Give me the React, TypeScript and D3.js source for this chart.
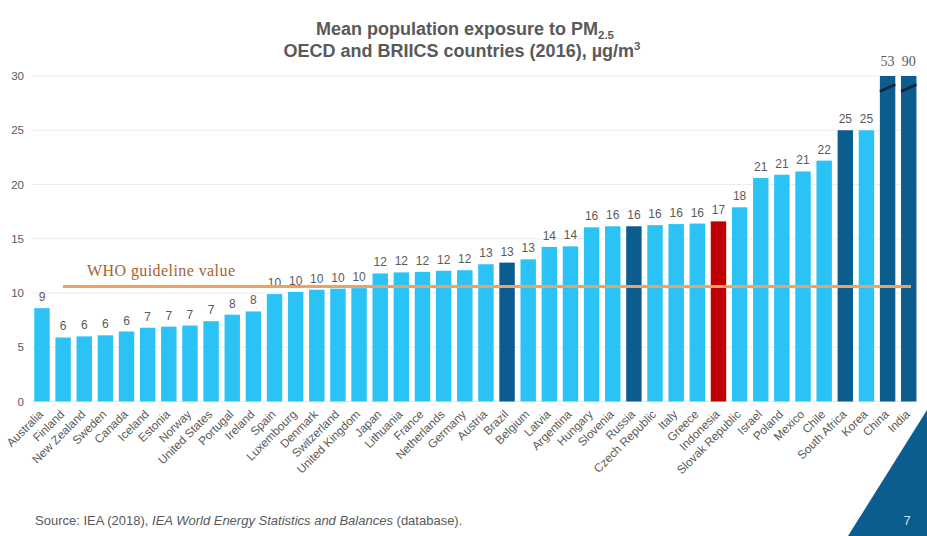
import React from "react";
import * as d3 from "d3";

const countries = [
  "Australia", "Finland", "New Zealand", "Sweden", "Canada", "Iceland", "Estonia", "Norway",
  "United States", "Portugal", "Ireland", "Spain", "Luxembourg", "Denmark", "Switzerland",
  "United Kingdom", "Japan", "Lithuania", "France", "Netherlands", "Germany", "Austria", "Brazil",
  "Belgium", "Latvia", "Argentina", "Hungary", "Slovenia", "Russia", "Czech Republic", "Italy",
  "Greece", "Indonesia", "Slovak Republic", "Israel", "Poland", "Mexico", "Chile", "South Africa",
  "Korea", "China", "India",
];

const values = [
  8.6, 5.9, 6.0, 6.1, 6.45, 6.8, 6.9, 7.0,
  7.4, 8.0, 8.3, 9.9, 10.1, 10.3,
  10.4, 10.45, 11.8, 11.9, 11.95, 12.05, 12.1, 12.65, 12.8,
  13.1, 14.25, 14.3, 16.05, 16.15, 16.15, 16.25, 16.35,
  16.4, 16.6, 17.9, 20.6, 20.9, 21.2, 22.2, 25.0,
  25.0, 53, 90,
];

// group: 0 = OECD, 1 = BRIICS partner, 2 = Indonesia
const groups = [
  0, 0, 0, 0, 0, 0, 0, 0, 0, 0, 0, 0, 0, 0, 0, 0, 0, 0, 0, 0, 0, 0, 1,
  0, 0, 0, 0, 0, 1, 0, 0, 0, 2, 0, 0, 0, 0, 0, 1, 0, 1, 1,
];

const yTicks = [0, 5, 10, 15, 20, 25, 30];
const yMax = 30;
const whoLineLevel = 10.6;

const W = 927;
const H = 536;

const groupColors = ["#2BC3F6", "#0B5D90", "#C00000"];

export default function App() {
  const x = d3
    .scaleBand<string>()
    .domain(countries)
    .range([31.4, 919.3])
    .paddingInner(0.27)
    .paddingOuter(0.135);
  const y = d3.scaleLinear().domain([0, yMax]).range([401.5, 76]);
  const bw = x.bandwidth();
  const sans = "'Liberation Sans', Arial, sans-serif";
  const serif = "'Liberation Serif', 'DejaVu Serif', Georgia, serif";
  const grey = "#5a5a5a";

  return (
    <div style={{ position: "fixed", left: 0, top: 0 }}>
      <svg width={W} height={H} style={{ display: "block", background: "#fff" }}>
        {/* title */}
        <text x={465} y={35} textAnchor="middle" fontFamily={sans} fontWeight="bold" fontSize={18} fill="#595959">
          Mean population exposure to PM
          <tspan fontSize={11.5} dy={4}>2.5</tspan>
        </text>
        <text x={462} y={57} textAnchor="middle" fontFamily={sans} fontWeight="bold" fontSize={18} fill="#595959">
          OECD and BRIICS countries (2016), µg/m
          <tspan fontSize={11.5} dy={-7}>3</tspan>
        </text>

        {/* grid + y ticks */}
        {yTicks.map((t) => (
          <g key={t}>
            <line x1={32} x2={918} y1={y(t)} y2={y(t)} stroke="#ececec" strokeWidth={1} />
            <text x={24} y={y(t) + 4} textAnchor="end" fontFamily={sans} fontSize={11.5} fill={grey}>
              {t}
            </text>
          </g>
        ))}

        {/* bars */}
        {countries.map((c, i) => {
          const v = values[i];
          const capped = Math.min(v, yMax);
          const x0 = x(c)!;
          const top = y(capped);
          const broken = v > yMax;
          return (
            <g key={c}>
              <rect x={x0} y={top} width={bw} height={y(0) - top} fill={groupColors[groups[i]]} />
              {broken && (
                <line
                  x1={x0}
                  x2={x0 + bw}
                  y1={top + 15.5}
                  y2={top + 8.5}
                  stroke="#15263a"
                  strokeWidth={2.5}
                />
              )}
              <text
                x={x0 + bw / 2}
                y={broken ? top - 10 : top - 7}
                textAnchor="middle"
                fontFamily={broken ? serif : sans}
                fontSize={broken ? 14 : 12}
                fill={grey}
              >
                {Math.round(v)}
              </text>
              <text
                transform={`translate(${x0 + bw / 2 + 2},${415}) rotate(-45)`}
                textAnchor="end"
                fontFamily={sans}
                fontSize={11.8}
                fill={grey}
              >
                {c}
              </text>
            </g>
          );
        })}

        {/* WHO guideline */}
        <line x1={63} x2={911} y1={y(whoLineLevel)} y2={y(whoLineLevel)} stroke="#F0A060" strokeWidth={3} />
        <text x={87} y={276} fontFamily={serif} fontSize={16} fill="#A5622E" textLength={148}>
          WHO guideline value
        </text>

        {/* footer */}
        <text x={35} y={525} fontFamily={sans} fontSize={13} fill="#595959">
          Source: IEA (2018), <tspan fontStyle="italic">IEA World Energy Statistics and Balances</tspan> (database).
        </text>
        <polygon points={`927,410 927,536 848,536`} fill="#0B5D90" />
        <text x={907} y={525} textAnchor="middle" fontFamily={sans} fontSize={13} fill="#c9dff0">
          7
        </text>
      </svg>
    </div>
  );
}
